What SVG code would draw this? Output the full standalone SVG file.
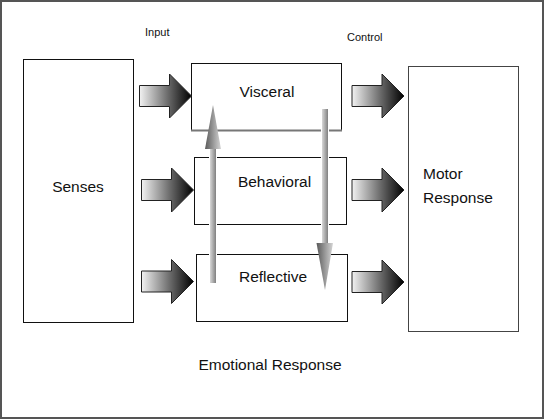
<svg xmlns="http://www.w3.org/2000/svg" width="544" height="420" viewBox="0 0 544 420">
<defs>
<style>
.box{fill:#fff;stroke:#111;stroke-width:1}
.lbl{font-family:"Liberation Sans",Arial,sans-serif;font-size:15.5px;fill:#111}
.sm{font-family:"Liberation Sans",Arial,sans-serif;font-size:11px;fill:#111}
.harrow{fill:url(#hg);stroke:#222;stroke-width:1}
</style>
<linearGradient id="hg" x1="0" y1="0" x2="1" y2="0">
<stop offset="0" stop-color="#f2f2f2"/>
<stop offset="0.55" stop-color="#6a6a6a"/>
<stop offset="1" stop-color="#000"/>
</linearGradient>
<linearGradient id="sg" x1="0" y1="0" x2="1" y2="0">
<stop offset="0" stop-color="#d8d8d8"/>
<stop offset="1" stop-color="#808080"/>
</linearGradient>
<linearGradient id="vg" x1="0" y1="0" x2="1" y2="0">
<stop offset="0" stop-color="#5a5a5a"/>
<stop offset="1" stop-color="#d4d4d4"/>
</linearGradient>
<path id="ha" d="M0,-10.5 H30 V-22 L52,0 L30,22 V10.5 H0 Z"/>
</defs>
<rect x="1" y="1" width="542" height="417" fill="#fff" stroke="#555" stroke-width="2"/>
<text class="sm" x="145" y="36">Input</text>
<text class="sm" x="347" y="41">Control</text>
<g id="senses">
<rect class="box" x="23.5" y="59.5" width="110" height="263"/>
<text class="lbl" x="78" y="192" text-anchor="middle">Senses</text>
</g>
<g id="visceral">
<rect class="box" x="191.5" y="63.5" width="150" height="67"/>
<line x1="191" y1="130.5" x2="342" y2="130.5" stroke="#777" stroke-width="2"/>
<text class="lbl" x="267" y="97" text-anchor="middle">Visceral</text>
</g>
<g id="behavioral">
<rect class="box" x="194.5" y="157.5" width="152" height="67"/>
<text class="lbl" x="274.5" y="187" text-anchor="middle">Behavioral</text>
</g>
<g id="reflective">
<rect class="box" x="196.5" y="254.5" width="151" height="67"/>
<text class="lbl" x="273" y="282" text-anchor="middle">Reflective</text>
</g>
<g id="motor">
<rect x="408.5" y="66.5" width="110" height="265" fill="#fff" stroke="#444" stroke-width="1"/>
<text class="lbl" x="423" y="179">Motor</text>
<text class="lbl" x="423" y="203">Response</text>
</g>
<g id="connectors">
<use href="#ha" class="harrow" transform="translate(139.5,96)"/>
<use href="#ha" class="harrow" transform="translate(141.5,190)"/>
<use href="#ha" class="harrow" transform="translate(141.5,281.5)"/>
<use href="#ha" class="harrow" transform="translate(352,96)"/>
<use href="#ha" class="harrow" transform="translate(352,190)"/>
<use href="#ha" class="harrow" transform="translate(352,282)"/>
<rect x="210" y="147" width="6" height="136" fill="url(#sg)" stroke="#fff" stroke-width="2"/>
<rect x="210" y="147" width="6" height="136" fill="url(#sg)"/>
<polygon points="213,105 221,149 205,149" fill="url(#vg)"/>
<rect x="322" y="109" width="6" height="136" fill="url(#sg)" stroke="#fff" stroke-width="2"/>
<rect x="322" y="109" width="6" height="136" fill="url(#sg)"/>
<polygon points="316.5,243 333,243 325,290" fill="url(#vg)"/>
</g>
<text class="lbl" x="270" y="370" text-anchor="middle">Emotional Response</text>
</svg>
